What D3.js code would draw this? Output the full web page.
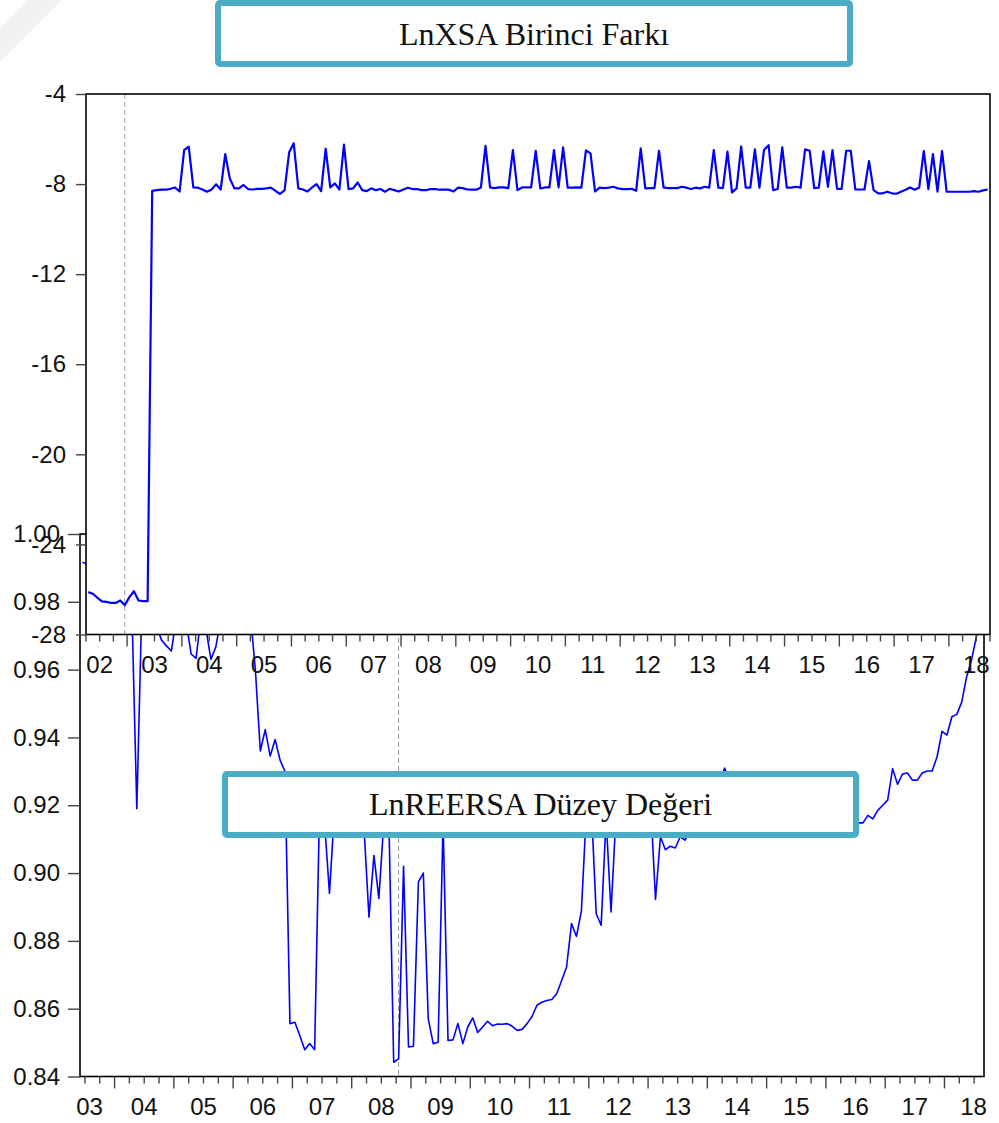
<!DOCTYPE html>
<html>
<head>
<meta charset="utf-8">
<script src="https://cdn.jsdelivr.net/npm/d3@7"></script>
<style>
  body { margin: 0; background: #fff; }
  svg text { font-family: "Liberation Sans", Arial, sans-serif; }
</style>
</head>
<body>
<div id="chart"></div>
<script>
// ------- Data -------

// LnXSA Birinci Farkı, monthly from 2002M04
const xsaStart = [2002, 4];
const xsaValues = [
  -26.12, -26.19, -26.37, -26.53, -26.55, -26.6, -26.6, -26.49, -26.7, -26.34,
  -26.08, -26.49, -26.52, -26.52, -8.30, -8.27, -8.25, -8.25, -8.21, -8.15,
  -8.33, -6.49, -6.34, -8.15, -8.16, -8.24, -8.34, -8.24, -8.01, -8.24,
  -6.67, -7.75, -8.19, -8.19, -8.04, -8.22, -8.24, -8.21, -8.21, -8.19,
  -8.16, -8.30, -8.44, -8.27, -6.59, -6.19, -8.19, -8.24, -8.33, -8.15,
  -8.00, -8.31, -6.43, -8.15, -7.97, -8.24, -6.25, -8.22, -8.19, -7.93,
  -8.27, -8.31, -8.19, -8.27, -8.22, -8.34, -8.21, -8.27, -8.33, -8.24,
  -8.16, -8.22, -8.22, -8.27, -8.27, -8.22, -8.22, -8.25, -8.25, -8.25,
  -8.33, -8.16, -8.18, -8.24, -8.25, -8.25, -8.15, -6.30, -8.15, -8.18,
  -8.15, -8.15, -8.18, -6.49, -8.27, -8.15, -8.15, -8.15, -6.52, -8.19,
  -8.15, -8.15, -6.49, -8.15, -6.37, -8.16, -8.16, -8.15, -8.16, -6.50,
  -6.64, -8.33, -8.16, -8.18, -8.16, -8.12, -8.19, -8.22, -8.22, -8.21,
  -8.30, -6.41, -8.19, -8.18, -8.18, -6.52, -8.15, -8.18, -8.18, -8.18,
  -8.12, -8.16, -8.22, -8.16, -8.19, -8.12, -8.16, -6.49, -8.16, -8.18,
  -6.56, -8.37, -8.19, -6.33, -8.16, -8.16, -6.46, -8.16, -6.49, -6.27,
  -8.27, -8.22, -6.37, -8.16, -8.16, -8.12, -8.16, -6.46, -6.52, -8.18,
  -8.16, -6.55, -8.12, -6.49, -8.21, -8.21, -6.52, -6.52, -8.24, -8.24,
  -8.24, -6.98, -8.27, -8.41, -8.41, -8.34, -8.41, -8.43, -8.34, -8.25,
  -8.15, -8.25, -8.15, -6.53, -8.22, -6.67, -8.34, -6.53, -8.34, -8.34,
  -8.34, -8.34, -8.34, -8.34, -8.31, -8.34, -8.28, -8.24
];

// LnREERSA Düzey Değeri, monthly from 2003M06
const reerStart = [2003, 6];
const reerValues = [
  0.9917, 0.991, 0.988, 0.986, 0.985, 0.984, 0.983, 0.982, 0.985, 0.984,
  0.978, 0.919, 0.978, 0.980, 0.976, 0.973, 0.9687, 0.967, 0.9655, 0.975,
  0.978, 0.974, 0.9646, 0.9633, 0.976, 0.972, 0.963, 0.9667, 0.975, 0.982,
  0.985, 0.988, 0.986, 0.983, 0.976, 0.960, 0.936, 0.9423, 0.9345, 0.9394,
  0.9333, 0.930, 0.8556, 0.856, 0.852, 0.8479, 0.8497, 0.8479, 0.920, 0.915,
  0.894, 0.918, 0.921, 0.923, 0.925, 0.922, 0.918, 0.913, 0.887, 0.9052,
  0.8925, 0.915, 0.918, 0.8442, 0.8452, 0.902, 0.8487, 0.8489, 0.8974, 0.9000,
  0.857, 0.8497, 0.8501, 0.915, 0.8506, 0.8508, 0.8556, 0.8497, 0.8546, 0.8573,
  0.8530, 0.8546, 0.8563, 0.8550, 0.8555, 0.8554, 0.8556, 0.8548, 0.8536, 0.8539,
  0.8556, 0.8577, 0.861, 0.8619, 0.8624, 0.8627, 0.8644, 0.8683, 0.8723, 0.8851,
  0.8813, 0.8888, 0.918, 0.920, 0.888, 0.8846, 0.916, 0.8885, 0.917, 0.919,
  0.921, 0.922, 0.920, 0.923, 0.924, 0.921, 0.8922, 0.9107, 0.9069, 0.9079,
  0.9074, 0.9107, 0.9097, 0.913, 0.915, 0.918, 0.920, 0.922, 0.925, 0.927,
  0.931, 0.927, 0.926, 0.925, 0.924, 0.924, 0.923, 0.922, 0.922, 0.921,
  0.920, 0.920, 0.919, 0.919, 0.918, 0.918, 0.917, 0.917, 0.916, 0.916,
  0.916, 0.915, 0.915, 0.915, 0.914, 0.914, 0.914, 0.9148, 0.9148, 0.917,
  0.916, 0.9185, 0.920, 0.9215, 0.9308, 0.9262, 0.9292, 0.9295, 0.9274, 0.9274,
  0.9295, 0.9301, 0.9301, 0.9343, 0.9418, 0.9407, 0.9461, 0.9468, 0.9505, 0.958,
  0.963, 0.970, 0.975
];

const xsaTicks = [-4, -8, -12, -16, -20, -24, -28];
const reerTicks = [0.84, 0.86, 0.88, 0.90, 0.92, 0.94, 0.96, 0.98, 1.00];

const xsaBreak = [2002, 12];   // dashed marker, top panel
const reerBreak = [2008, 10];  // dashed marker, bottom panel

const xsaTitle = "LnXSA Birinci Farkı";
const reerTitle = "LnREERSA Düzey Değeri";

// ------- Setup -------

const width = 999;
const height = 1123;
const blue = "#0000ff";
const teal = "#4bacc6";

const svg = d3.select("#chart")
  .append("svg")
  .attr("width", width)
  .attr("height", height);

function monthIndex(ym) {
  return (ym[0] - 2000) * 12 + (ym[1] - 1);
}

// draws one EViews-like panel; white plot background hides whatever lies below
function drawPanel(cfg) {
  const g = svg.append("g");
  const m0 = monthIndex(cfg.start);
  const m1 = m0 + cfg.values.length;

  const x = d3.scaleLinear().domain([m0, m1]).range([cfg.left, cfg.right]);
  const y = d3.scaleLinear().domain(cfg.yDomain).range([cfg.bottom, cfg.top]);

  g.append("rect")
    .attr("x", cfg.left).attr("y", cfg.top)
    .attr("width", cfg.right - cfg.left).attr("height", cfg.bottom - cfg.top)
    .attr("fill", "#fff");

  // dashed marker
  const bx = x(monthIndex(cfg.breakAt) + 0.5);
  g.append("line")
    .attr("x1", bx).attr("x2", bx)
    .attr("y1", cfg.top).attr("y2", cfg.bottom)
    .attr("stroke", "#999").attr("stroke-width", 1)
    .attr("stroke-dasharray", "5,3");

  // series
  const line = d3.line()
    .x((d, i) => x(m0 + i + 0.5))
    .y((d) => y(d));

  g.append("path")
    .datum(cfg.values)
    .attr("d", line)
    .attr("fill", "none")
    .attr("stroke", blue)
    .attr("stroke-width", cfg.lineWidth)
    .attr("stroke-linejoin", "round");

  // frame
  g.append("rect")
    .attr("x", cfg.left).attr("y", cfg.top)
    .attr("width", cfg.right - cfg.left).attr("height", cfg.bottom - cfg.top)
    .attr("fill", "none").attr("stroke", "#000").attr("stroke-width", 1.6);

  // y axis
  const yAxis = d3.axisLeft(y)
    .tickValues(cfg.yTicks)
    .tickSize(cfg.yTickSize)
    .tickPadding(cfg.yTickPad)
    .tickFormat(cfg.yFormat);

  const yAxisG = g.append("g")
    .attr("transform", `translate(${cfg.left},0)`)
    .call(yAxis);
  yAxisG.select(".domain").remove();
  yAxisG.selectAll("line").attr("stroke", "#444").attr("stroke-width", 1.4);
  yAxisG.selectAll("text")
    .attr("font-size", 24)
    .attr("fill", "#111")
    .attr("font-family", "Liberation Sans, Arial, sans-serif");

  // x axis: quarterly ticks, longer at year starts
  const quarterTicks = d3.range(Math.ceil(m0 / 3) * 3, m1 + 0.001, 3);
  g.append("g")
    .selectAll("line")
    .data(quarterTicks)
    .join("line")
    .attr("x1", (d) => x(d)).attr("x2", (d) => x(d))
    .attr("y1", cfg.bottom)
    .attr("y2", (d) => cfg.bottom + (d % 12 === 0 ? 12 : 7))
    .attr("stroke", "#444").attr("stroke-width", 1.4);

  // year labels centred at mid-year, kept inside the axis
  const firstYear = Math.floor(m0 / 12) + 2000;
  const lastYear = Math.floor((m1 - 1) / 12) + 2000;
  const years = d3.range(firstYear, lastYear + 1);
  const half = 13.5;

  g.append("g")
    .selectAll("text")
    .data(years)
    .join("text")
    .attr("x", (yr) => {
      const c = x((yr - 2000) * 12 + 6);
      return Math.min(Math.max(c, cfg.left + half - 4), cfg.right - half + 3);
    })
    .attr("y", cfg.bottom + 38)
    .attr("text-anchor", "middle")
    .attr("font-size", 24)
    .attr("fill", "#111")
    .text((yr) => String(yr % 100).padStart(2, "0"));
}

function titleBox(x0, y0, w, h, label, textY) {
  svg.append("rect")
    .attr("x", x0).attr("y", y0)
    .attr("width", w).attr("height", h)
    .attr("rx", 2)
    .attr("fill", "#fff")
    .attr("stroke", teal)
    .attr("stroke-width", 6);

  svg.append("text")
    .attr("x", x0 + w / 2)
    .attr("y", textY)
    .attr("text-anchor", "middle")
    .attr("font-size", 32)
    .attr("fill", "#111")
    .style("font-family", "'Liberation Serif', 'Times New Roman', serif")
    .text(label);
}

// faint watermark corner
svg.append("path")
  .attr("d", "M0,28 L28,0 L62,0 L0,62 Z")
  .attr("fill", "#f1f1f1");

// ------- Bottom panel (drawn first, partly covered) -------
drawPanel({
  start: reerStart,
  values: reerValues,
  left: 80, right: 984, top: 534, bottom: 1076.5,
  yDomain: [0.84, 1.00],
  yTicks: reerTicks,
  yTickSize: 12, yTickPad: 8,
  yFormat: d3.format(".2f"),
  breakAt: reerBreak,
  lineWidth: 1.6
});

// ------- Top panel -------
drawPanel({
  start: xsaStart,
  values: xsaValues,
  left: 86, right: 990, top: 94, bottom: 634.5,
  yDomain: [-28, -4],
  yTicks: xsaTicks,
  yTickSize: 10, yTickPad: 10,
  yFormat: (d) => String(d),   // plain hyphen, as in the original
  breakAt: xsaBreak,
  lineWidth: 2.2
});

// ------- Title boxes -------
titleBox(218, 3, 632, 61, xsaTitle, 45);
titleBox(225, 774, 631, 61, reerTitle, 815);
</script>
</body>
</html>
